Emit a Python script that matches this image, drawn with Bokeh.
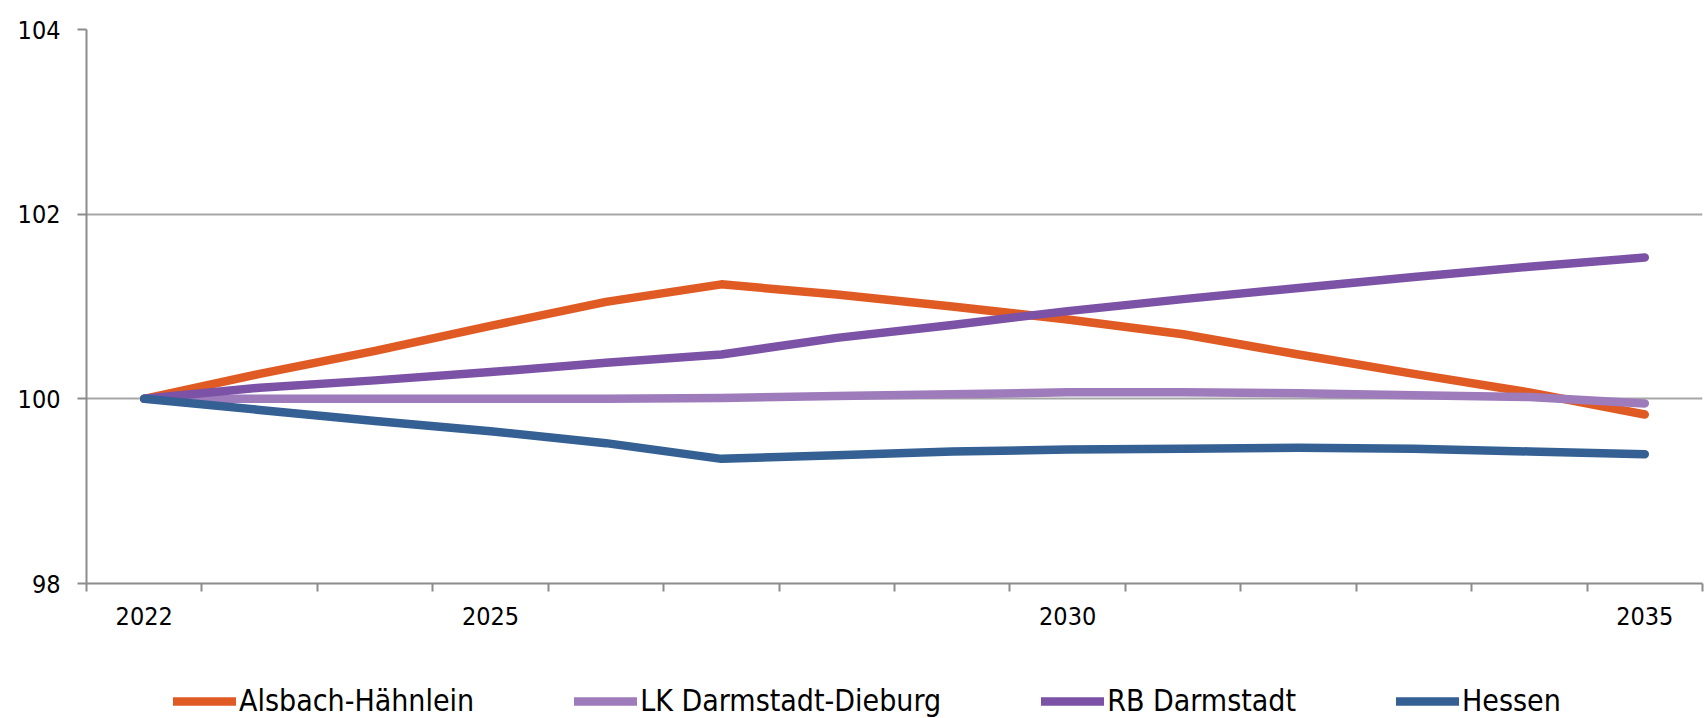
from bokeh.plotting import figure
from bokeh.layouts import column
from bokeh.models import Range1d, FixedTicker, Legend, LegendItem
from bokeh.embed import file_html
from bokeh.resources import INLINE

years = [2022, 2023, 2024, 2025, 2026, 2027, 2028, 2029, 2030, 2031, 2032, 2033, 2034, 2035]
alsbach = [100.00, 100.27, 100.52, 100.79, 101.05, 101.24, 101.13, 101.00, 100.86, 100.70, 100.48, 100.27, 100.07, 99.83]
lk_darmstadt = [100.00, 100.00, 100.00, 100.00, 100.00, 100.01, 100.03, 100.05, 100.07, 100.07, 100.06, 100.04, 100.02, 99.95]
rb_darmstadt = [100.00, 100.12, 100.20, 100.29, 100.39, 100.48, 100.66, 100.80, 100.95, 101.08, 101.20, 101.32, 101.43, 101.53]
hessen = [100.00, 99.88, 99.76, 99.65, 99.52, 99.35, 99.39, 99.43, 99.45, 99.46, 99.47, 99.46, 99.43, 99.40]

series_names = ["Alsbach-Hähnlein", "LK Darmstadt-Dieburg", "RB Darmstadt", "Hessen"]
series_colors = ["#E05A24", "#9E7BBB", "#7B52A6", "#346093"]
label_years = [2022, 2025, 2030, 2035]
y_ticks = [98, 100, 102, 104]
all_series = [alsbach, lk_darmstadt, rb_darmstadt, hessen]

FONT = "DejaVu Sans Condensed, Liberation Sans"

p = figure(frame_width=1616, frame_height=554, output_backend="svg", toolbar_location=None,
           x_range=Range1d(years[0] - 0.5, years[-1] + 0.5), y_range=Range1d(98, 104),
           min_border_left=86, min_border_right=3, min_border_top=29, min_border_bottom=60)
p.outline_line_color = None
p.background_fill_color = "white"
p.border_fill_color = "white"

for vals, c in zip(all_series, series_colors):
    p.line(years, vals, line_color=c, line_width=8.5, line_cap="round", line_join="round")

# x axis
p.xaxis.ticker = FixedTicker(ticks=label_years, minor_ticks=[y - 0.5 for y in years] + [years[-1] + 0.5])
p.xaxis.major_tick_out = 0
p.xaxis.major_tick_in = 0
p.xaxis.minor_tick_out = 8
p.xaxis.minor_tick_in = 0
p.xaxis.minor_tick_line_color = "#8C8C8C"
p.xaxis.minor_tick_line_width = 2
p.xaxis.axis_line_color = "#8C8C8C"
p.xaxis.axis_line_width = 2
p.xaxis.major_label_text_font = FONT
p.xaxis.major_label_text_font_size = "25px"
p.xaxis.major_label_text_color = "black"
p.xaxis.major_label_standoff = 15

# y axis
p.yaxis.ticker = FixedTicker(ticks=y_ticks, minor_ticks=[])
p.yaxis.major_tick_out = 9
p.yaxis.major_tick_in = 0
p.yaxis.major_tick_line_color = "#8C8C8C"
p.yaxis.major_tick_line_width = 2
p.yaxis.axis_line_color = "#8C8C8C"
p.yaxis.axis_line_width = 2
p.yaxis.major_label_text_font = FONT
p.yaxis.major_label_text_font_size = "25px"
p.yaxis.major_label_text_color = "black"
p.yaxis.major_label_standoff = 17

p.xgrid.grid_line_color = None
p.ygrid.grid_line_color = "#A6A6A6"
p.ygrid.grid_line_width = 2
p.ygrid.ticker = FixedTicker(ticks=y_ticks)

# legend strip below the chart
q = figure(width=1705, height=75, output_backend="svg", toolbar_location=None,
           x_range=Range1d(0, 1), y_range=Range1d(0, 1),
           min_border=0)
q.outline_line_color = None
q.xaxis.visible = False
q.yaxis.visible = False
q.xgrid.visible = False
q.ygrid.visible = False
leg_renderers = []
for vals, c in zip(all_series, series_colors):
    leg_renderers.append(q.line(years, vals, line_color=c, line_width=8.5, line_cap="round"))

legend = Legend(items=[LegendItem(label=n, renderers=[r]) for n, r in zip(series_names, leg_renderers)],
                orientation="horizontal", location=(87, 0),
                glyph_width=63, glyph_height=20, label_height=20, label_standoff=3, spacing=100,
                padding=0, margin=0, border_line_color=None, background_fill_alpha=0,
                label_text_font=FONT, label_text_font_size="30px", label_text_color="black")
q.add_layout(legend, "center")

layout = column(p, q, spacing=0)
open("out.html", "w").write(file_html(layout, INLINE))
